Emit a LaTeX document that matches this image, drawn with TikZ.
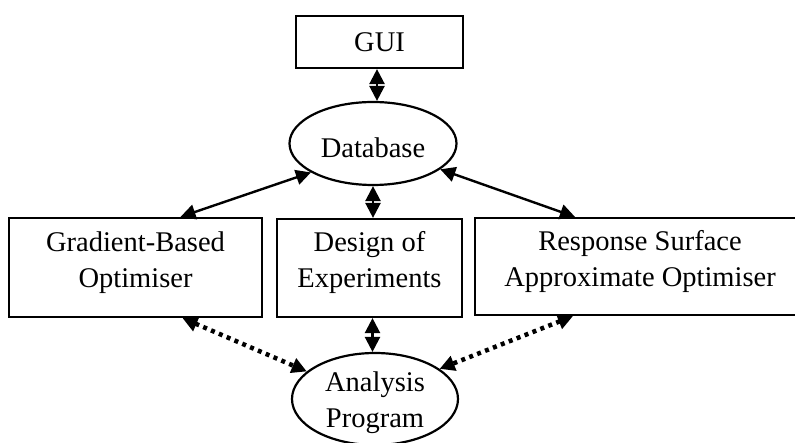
\documentclass[tikz,border=0pt]{standalone}
\usepackage{fontspec}
\setmainfont{Liberation Serif}
\usetikzlibrary{shapes.geometric,arrows.meta}
\begin{document}
\begin{tikzpicture}[x=1pt,y=-1pt,
  every node/.style={font=\fontsize{28.5}{36}\selectfont, align=center, inner sep=0pt},
  block/.style={draw, line width=2.2pt, rectangle},
  store/.style={draw, line width=2.2pt, ellipse},
  up/.style={label={[yshift=5pt]center:#1}},
  down/.style={label={[yshift=-4pt]center:#1}},
  >={Triangle[length=15pt,width=15pt]},
  link/.style={line width=2.4pt, <->},
  dotlink/.style={line width=4.5pt, dash pattern=on 4pt off 4.5pt, <->}
]
\useasboundingbox (0,0) rectangle (795,443);

% components
\node[block, minimum width=167pt, minimum height=52pt] (gui) at (379.5,42) {GUI};
\node[store, minimum width=167pt, minimum height=83pt, down={Database}] (db) at (373,143.5) {};
\node[block, minimum width=253pt, minimum height=99pt, up={Gradient-Based\\Optimiser}] (grad) at (135.5,267.5) {};
\node[block, minimum width=185pt, minimum height=98pt, up={Design of\\Experiments}] (doe) at (369.5,268) {};
\node[block, minimum width=330pt, minimum height=97pt, up={Response Surface\\Approximate Optimiser}] (rsao) at (640,266.5) {};
\node[store, minimum width=166pt, minimum height=92pt, down={Analysis\\Program}] (ana) at (375,399) {};

% data exchange with the database
\draw[link] ([xshift=-2.5pt]gui.south) -- ([xshift=4pt]db.north);
\draw[link] (db.205) -- ([xshift=45pt]grad.north);
\draw[link] (db.south) -- ([xshift=3.5pt]doe.north);
\draw[link] (db.-21) -- ([xshift=-65pt]rsao.north);

% calls to the analysis program
\draw[link] ([xshift=3pt]doe.south) -- ([xshift=-2.5pt]ana.north);
\draw[dotlink] ([xshift=47pt]grad.south) -- (ana.158);
\draw[dotlink] ([xshift=-67pt]rsao.south) -- (ana.25);
\end{tikzpicture}
\end{document}
